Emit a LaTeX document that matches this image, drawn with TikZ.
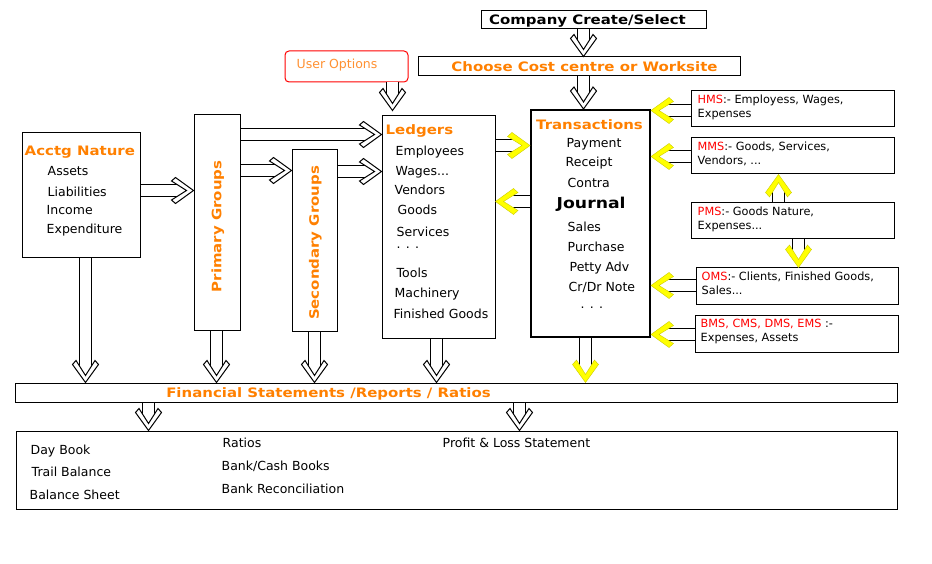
\documentclass[tikz,border=0pt]{standalone}
\usepackage{fontspec}
\setmainfont{DejaVu Sans}
\newfontfamily\ttlfont[FakeStretch=1.15]{DejaVu Sans}
\usetikzlibrary{decorations.markings}
\definecolor{orng}{RGB}{255,128,0}
\definecolor{uorng}{RGB}{255,145,50}
\definecolor{ylw}{RGB}{255,255,0}
\definecolor{rd}{RGB}{255,0,0}
\newcommand\harrow[3][b]{\draw[shaft, #1cut] #2 -- #3; \path[#1head] #2 -- #3;}
\tikzset{
  box/.style={draw=black, line width=1pt, fill=white, inner sep=0pt, anchor=north west},
  txt/.style={anchor=west, inner sep=0pt, text=black, font=\fontsize{12.5}{15}\selectfont, text height=9pt, text depth=0pt},
  rtxt/.style={anchor=west, inner sep=0pt, text=black, font=\fontsize{11.3}{14}\selectfont, text height=8.2pt, text depth=0pt},
  ttl/.style={anchor=west, inner sep=0pt, text=orng, font=\ttlfont\bfseries\fontsize{13}{15}\selectfont, text height=9.5pt, text depth=0pt},
  shaft/.style={draw=black, line width=1pt, double=white, double distance=11pt},
  bcut/.style={shorten >=15pt},
  ycut/.style={shorten >=15pt},
  bhead/.style={decorate, decoration={markings, mark=at position 1 with {\filldraw[fill=white, draw=black, line width=1pt] (0pt,0pt) -- (-18pt,13pt) -- (-22pt,9.5pt) -- (-7pt,0pt) -- (-22pt,-9.5pt) -- (-18pt,-13pt) -- cycle;}}},
  yhead/.style={decorate, decoration={markings, mark=at position 1 with {\filldraw[fill=ylw, draw=ylw!80!black, line width=0.4pt] (0pt,0pt) -- (-18pt,13pt) -- (-22.5pt,9pt) -- (-8pt,0pt) -- (-22.5pt,-9pt) -- (-18pt,-13pt) -- cycle;}}},
}
\begin{document}
\begin{tikzpicture}[x=1pt,y=-1pt]
\useasboundingbox[fill=white] (0,0) rectangle (932,564);
\begin{scope}[shift={(0.5,0.5)}]
% ---------- boxes ----------
\node[box, minimum width=225, minimum height=18] (comp) at (480,10) {};
\node[box, minimum width=322, minimum height=19] (choose) at (417,56) {};
\node[box, draw=rd, rounded corners=4pt, minimum width=123, minimum height=31] (user) at (284,50) {};
\node[box, minimum width=118, minimum height=125] (acctg) at (21,132) {};
\node[box, minimum width=46, minimum height=215] (prim) at (193,114) {};
\node[box, minimum width=45, minimum height=181] (sec) at (291,149) {};
\node[box, minimum width=113, minimum height=222] (ledg) at (381,115) {};
\node[box, line width=2pt, minimum width=119, minimum height=227] (trans) at (529.5,108.5) {};
\node[box, minimum width=203, minimum height=36] (hms) at (690,90) {};
\node[box, minimum width=203, minimum height=36] (mms) at (690,137) {};
\node[box, minimum width=203, minimum height=36] (pms) at (690,202) {};
\node[box, minimum width=202, minimum height=36] (oms) at (695,267) {};
\node[box, minimum width=203, minimum height=37] (bms) at (694,314) {};
\node[box, minimum width=882, minimum height=19] (bar) at (14,382) {};
\node[box, minimum width=881, minimum height=78] (bot) at (15,430) {};

% ---------- texts ----------
\node[ttl, anchor=center, text=black] (compT) at (587,19) {Company Create/Select};
\node[ttl, anchor=center] (chooseT) at (584,66.5) {Choose Cost centre or Worksite};
\node[txt, text=uorng] (userT) at (296,63.5) {User Options};

\node[ttl] (acctgT) at (24,150) {Acctg Nature};
\node[txt] (a1) at (47,170.7) {Assets};
\node[txt] (a2) at (47,191.7) {Liabilities};
\node[txt] (a3) at (46,210) {Income};
\node[txt] (a4) at (46,229) {Expenditure};

\node[ttl, anchor=center, rotate=90] (primT) at (216,226) {Primary Groups};
\node[ttl, anchor=center, rotate=90] (secT) at (313.5,242.5) {Secondary Groups};

\node[ttl] (ledgT) at (385,129) {Ledgers};
\node[txt] (l1) at (395,150.7) {Employees};
\node[txt] (l2) at (395,170.7) {Wages...};
\node[txt] (l3) at (394,190) {Vendors};
\node[txt] (l4) at (397,210) {Goods};
\node[txt] (l5) at (396,231.7) {Services};
\node[txt] (l6) at (396,243.6) {. . .};
\node[txt] (l7) at (396,272) {Tools};
\node[txt] (l8) at (394,293) {Machinery};
\node[txt] (l9) at (393,313) {Finished Goods};

\node[ttl, anchor=center] (transT) at (589,124) {Transactions};
\node[txt] (t1) at (566,143) {Payment};
\node[txt] (t2) at (565,162) {Receipt};
\node[txt] (t3) at (567,183) {Contra};
\node[ttl, text=black, font=\ttlfont\bfseries\fontsize{15}{17}\selectfont, text height=11pt] (t4) at (556,203) {Journal};
\node[txt] (t5) at (567,227) {Sales};
\node[txt] (t6) at (567,247) {Purchase};
\node[txt] (t7) at (569,267) {Petty Adv};
\node[txt] (t8) at (568,286) {Cr/Dr Note};
\node[txt] (t9) at (580,303) {. . .};

\node[rtxt] (h1) at (697,99) {\textcolor{rd}{HMS}:- Employess, Wages,};
\node[rtxt] (h2) at (697,113) {Expenses};
\node[rtxt] (m1) at (697,146) {\textcolor{rd}{MMS}:- Goods, Services,};
\node[rtxt] (m2) at (697,160) {Vendors, ...};
\node[rtxt] (p1) at (697,211) {\textcolor{rd}{PMS}:- Goods Nature,};
\node[rtxt] (p2) at (697,225) {Expenses...};
\node[rtxt] (o1) at (701,276) {\textcolor{rd}{OMS}:- Clients, Finished Goods,};
\node[rtxt] (o2) at (701,290) {Sales...};
\node[rtxt] (b1) at (700,323) {\textcolor{rd}{BMS, CMS, DMS, EMS} :-};
\node[rtxt] (b2) at (700,337) {Expenses, Assets};

\node[ttl, anchor=center] (barT) at (328,392) {Financial Statements /Reports / Ratios};

\node[txt] (r1) at (30,449) {Day Book};
\node[txt] (r2) at (31,471.7) {Trail Balance};
\node[txt] (r3) at (29,494.7) {Balance Sheet};
\node[txt] (r4) at (222,442.7) {Ratios};
\node[txt] (r5) at (221,465.7) {Bank/Cash Books};
\node[txt] (r6) at (221,488.7) {Bank Reconciliation};
\node[txt] (r7) at (442,442.7) {Profit \& Loss Statement};

% ---------- alignment coordinates ----------
\coordinate (xC) at (583,0);
\coordinate (xU) at (392,0);
\coordinate (yAP) at (0,190);
\coordinate (yPL) at (0,134);
\coordinate (yPS) at (0,170);
\coordinate (ySL) at (0,171);
\coordinate (yLT) at (0,145);
\coordinate (yTL) at (0,201);
\coordinate (yH) at (0,110);
\coordinate (yM) at (0,156);
\coordinate (yO) at (0,285);
\coordinate (yB) at (0,334);
\coordinate (xPM) at (778,0);
\coordinate (xPO) at (798,0);
\coordinate (xA) at (85,0);
\coordinate (xP) at (216,0);
\coordinate (xS) at (314,0);
\coordinate (xL) at (436,0);
\coordinate (xT) at (585,0);
\coordinate (xR1) at (148,0);
\coordinate (xR2) at (519,0);

% ---------- connectors ----------
\harrow{(comp.south -| xC)}{(choose.north -| xC)}
\harrow{(choose.south -| xC)}{(trans.north -| xC)}
\harrow{(user.south -| xU)}{([yshift=5pt]ledg.north -| xU)}
\harrow{(acctg.east |- yAP)}{(prim.west |- yAP)}
\harrow{(prim.east |- yPL)}{(ledg.west |- yPL)}
\harrow{(prim.east |- yPS)}{(sec.west |- yPS)}
\harrow{(sec.east |- ySL)}{(ledg.west |- ySL)}
\harrow[y]{(ledg.east |- yLT)}{(trans.west |- yLT)}
\harrow[y]{(trans.west |- yTL)}{(ledg.east |- yTL)}
\harrow[y]{(hms.west |- yH)}{(trans.east |- yH)}
\harrow[y]{(mms.west |- yM)}{(trans.east |- yM)}
\harrow[y]{(oms.west |- yO)}{(trans.east |- yO)}
\harrow[y]{(bms.west |- yB)}{(trans.east |- yB)}
\harrow[y]{(pms.north -| xPM)}{(mms.south -| xPM)}
\harrow[y]{(pms.south -| xPO)}{(oms.north -| xPO)}
\harrow{(acctg.south -| xA)}{(bar.north -| xA)}
\harrow{(prim.south -| xP)}{(bar.north -| xP)}
\harrow{(sec.south -| xS)}{(bar.north -| xS)}
\harrow{(ledg.south -| xL)}{(bar.north -| xL)}
\harrow[y]{(trans.south -| xT)}{(bar.north -| xT)}
\harrow{(bar.south -| xR1)}{(bot.north -| xR1)}
\harrow{(bar.south -| xR2)}{(bot.north -| xR2)}
\end{scope}
\end{tikzpicture}
\end{document}
